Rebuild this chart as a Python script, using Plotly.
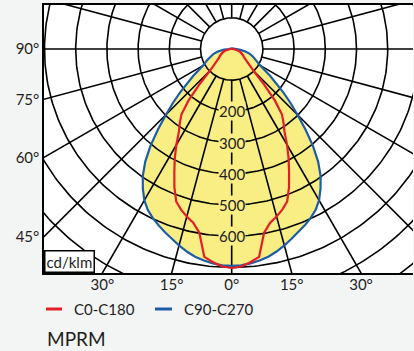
import numpy as np
import plotly.graph_objects as go

# ---------------- data (cd/klm) ----------------
gamma = [0, 2.5, 5, 7.5, 10, 12.5, 15, 17.5, 20, 22.5, 25, 27.5, 30, 32.5, 35, 37.5,
         40, 42.5, 45, 47.5, 50, 55, 60, 65, 70, 75, 80, 85, 90, 100, 120, 150, 180]

c0_c180 = [702, 698, 686, 672, 598, 570, 556, 540, 520, 480, 435, 395, 355, 315, 290, 265,
           215, 150, 100, 78, 62, 50, 43, 37, 30, 22, 15, 8, 3, 2, 2, 2, 2]

c90_c270 = [695, 694, 690, 684, 676, 665, 652, 638, 625, 612, 598, 582, 560, 530, 497, 455,
            405, 350, 298, 255, 215, 150, 105, 88, 73, 60, 45, 25, 6, 2, 2, 2, 2]

series_names = ["C0-C180", "C90-C270"]
ring_values = [100, 200, 300, 400, 500, 600, 700, 800, 900, 1000]
ring_labels = [200, 300, 400, 500, 600]
spoke_angles = list(range(0, 360, 15))
left_tick_angles = [90, 75, 60, 45]
bottom_tick_angles = [-30, -15, 0, 15, 30]
unit_label = "cd/klm"
title_text = "MPRM"

# ---------------- style ----------------
RED = "#e41e26"
BLUE = "#1d5ca8"
YELLOW = "#f8ee84"
BG = "#f3f4f4"
TXT = "#1e1e1e"
FONT = "Lato"
X_RANGE = [-601.6, 581.1]
Y_RANGE = [-718.0, 141.0]


def curve_xy(vals):
    g = np.radians(np.array(gamma, dtype=float))
    v = np.array(vals, dtype=float)
    xl = -v[::-1] * np.sin(g[::-1])
    yl = -v[::-1] * np.cos(g[::-1])
    xr = v[1:] * np.sin(g[1:])
    yr = -v[1:] * np.cos(g[1:])
    return np.concatenate([xl, xr]), np.concatenate([yl, yr])


fig = go.Figure()

rx, ry = curve_xy(c0_c180)
bx, by = curve_xy(c90_c270)

for xs, ys in ((bx, by), (rx, ry)):
    fig.add_trace(go.Scatter(x=xs, y=ys, mode="lines", fill="toself", fillcolor=YELLOW,
                             line=dict(width=0, color=YELLOW), hoverinfo="skip", showlegend=False))

t = np.linspace(0, 2 * np.pi, 361)
gx, gy = [], []
for r in ring_values:
    gx += list(r * np.cos(t)) + [None]
    gy += list(r * np.sin(t)) + [None]
for a in spoke_angles:
    ar = np.radians(a)
    gx += [ring_values[0] * np.sin(ar), 1500 * np.sin(ar), None]
    gy += [-ring_values[0] * np.cos(ar), -1500 * np.cos(ar), None]
fig.add_trace(go.Scatter(x=gx, y=gy, mode="lines", line=dict(color="black", width=1.6),
                         hoverinfo="skip", showlegend=False))

fig.add_trace(go.Scatter(x=bx, y=by, mode="lines", line=dict(color=BLUE, width=2.2),
                         name=series_names[1], showlegend=False))
fig.add_trace(go.Scatter(x=rx, y=ry, mode="lines", line=dict(color=RED, width=2.2),
                         name=series_names[0], showlegend=False))

annotations = []
for v in ring_labels:
    annotations.append(dict(x=0, y=-v, xref="x", yref="y", text=str(v), showarrow=False,
                            font=dict(family=FONT, size=15, color=TXT), bgcolor=YELLOW,
                            borderpad=0))

annotations.append(dict(x=0, y=0, xref="paper", yref="paper", xanchor="left", yanchor="bottom",
                        text=unit_label, showarrow=False, bgcolor="white", bordercolor="black",
                        borderwidth=1.5, borderpad=1,
                        font=dict(family=FONT, size=15, color=TXT)))

LEG_Y = (273 - 309) / 268
annotations.append(dict(x=(72 - 44) / 369, y=LEG_Y, xref="paper", yref="paper",
                        xanchor="left", yanchor="middle", text=series_names[0], showarrow=False,
                        font=dict(family=FONT, size=15, color=TXT)))
annotations.append(dict(x=(182 - 44) / 369, y=LEG_Y, xref="paper", yref="paper",
                        xanchor="left", yanchor="middle", text=series_names[1], showarrow=False,
                        font=dict(family=FONT, size=15, color=TXT)))
annotations.append(dict(x=(45 - 44) / 369, y=(273 - 338) / 268, xref="paper", yref="paper",
                        xanchor="left", yanchor="middle", text=title_text, showarrow=False,
                        font=dict(family=FONT, size=19, color=TXT)))

shapes = [
    dict(type="line", xref="paper", yref="paper", x0=(46 - 44) / 369, x1=(62 - 44) / 369,
         y0=LEG_Y, y1=LEG_Y, line=dict(color=RED, width=3)),
    dict(type="line", xref="paper", yref="paper", x0=(155 - 44) / 369, x1=(172 - 44) / 369,
         y0=LEG_Y, y1=LEG_Y, line=dict(color=BLUE, width=3)),
]

xt = [abs(Y_RANGE[0]) * np.tan(np.radians(a)) for a in bottom_tick_angles]
yt = [X_RANGE[0] / np.tan(np.radians(a)) for a in left_tick_angles]

fig.update_layout(
    width=414, height=351,
    margin=dict(l=44, r=1, t=5, b=78, autoexpand=False),
    paper_bgcolor=BG, plot_bgcolor="white",
    showlegend=False,
    annotations=annotations,
    shapes=shapes,
    xaxis=dict(range=X_RANGE, showgrid=False, zeroline=False, showline=True, mirror=True,
               linecolor="black", linewidth=1.5, tickvals=xt, automargin=False,
               ticktext=[f"{abs(a)}°" for a in bottom_tick_angles],
               ticks="", ticklabelstandoff=-3,
               tickfont=dict(family=FONT, size=15, color=TXT), fixedrange=True),
    yaxis=dict(range=Y_RANGE, showgrid=False, zeroline=False, showline=True, mirror=False,
               linecolor="black", linewidth=1.5, tickvals=yt, automargin=False,
               ticktext=[f"{a}°" for a in left_tick_angles],
               ticks="",
               tickfont=dict(family=FONT, size=15, color=TXT), fixedrange=True),
)

fig.write_html("out.html", config={"displayModeBar": False},
               post_script="document.body.style.margin='0px';document.body.style.background='" + BG + "';")
